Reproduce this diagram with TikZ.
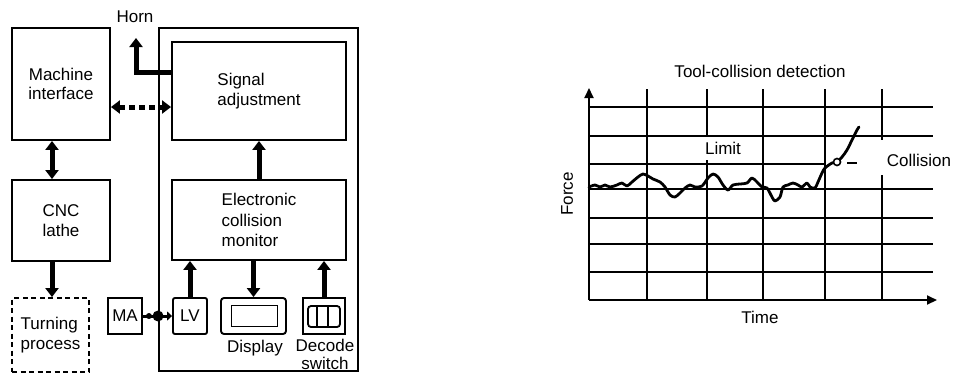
\documentclass[tikz,border=0pt]{standalone}
\usepackage{fontspec}
\setmainfont{Liberation Sans}
\usetikzlibrary{arrows.meta}
\begin{document}
\begin{tikzpicture}[x=1pt,y=-1pt,
  txt/.style={font=\fontsize{17}{19.5}\selectfont},
  blk/.style={draw, line width=1.9pt, inner sep=0pt, txt},
  lbl/.style={inner sep=0pt, txt},
  fat/.style={line width=5pt, -{Triangle[width=13pt,length=9pt]}},
  fatboth/.style={line width=5pt, {Triangle[width=13pt,length=9pt]}-{Triangle[width=13pt,length=9pt]}},
  gridline/.style={line width=1.5pt},
  axis/.style={line width=2pt, -{Triangle[width=9pt,length=10pt]}},
]
\useasboundingbox (0,0) rectangle (954,376);

% ---------------- left block diagram ----------------
\node[draw, line width=1.9pt, minimum width=199, minimum height=343, inner sep=0pt] (outer) at (258.5,199.5) {};

\node[blk, minimum width=98, minimum height=112, align=center] (mi) at (61,84) {Machine\\interface};
\node[blk, minimum width=98, minimum height=81, align=center] (cnc) at (61,220.5) {CNC\\lathe};
\node[blk, dash pattern=on 5pt off 3.5pt, minimum width=77, minimum height=74, align=left] (tp) at (50.5,335) {Turning\\process};

\node[blk, minimum width=174, minimum height=98, align=left] (sa) at (259,91) {Signal\\adjustment};
\node[blk, minimum width=174, minimum height=80, align=left, font=\fontsize{17}{20.5}\selectfont] (ecm) at (259,220) {Electronic\\collision\\monitor};

\node[blk, minimum width=34, minimum height=36] (ma) at (125,316) {MA};
\node[blk, rounded corners=2pt, minimum width=34, minimum height=36] (lv) at (190,316) {LV};
\node[blk, rounded corners=3pt, minimum width=65, minimum height=36] (disp) at (253.5,316) {};
\node[draw, line width=1.8pt, inner sep=0pt, minimum width=46, minimum height=21] (dispin) at (254.5,316) {};
\node[blk, minimum width=42, minimum height=36] (dec) at (324,316) {};
\node[draw, line width=1.8pt, inner sep=0pt, rounded corners=3pt, minimum width=32, minimum height=21] (decin) at (324,316.5) {};
\draw[line width=1.5pt] ([xshift=10pt]decin.north west) -- ([xshift=10pt]decin.south west);
\draw[line width=1.5pt] ([xshift=21pt]decin.north west) -- ([xshift=21pt]decin.south west);

\node[lbl] (displbl) at (255,348) {Display};
\node[lbl, align=center, font=\fontsize{17}{18}\selectfont] (declbl) at (325,354) {Decode\\switch};
\node[lbl] (horn) at (135,17) {Horn};
\coordinate (hornarr) at (136,38);

% connectors
\draw[fatboth] ([xshift=-9pt]mi.south) -- ([xshift=-9pt]cnc.north);
\draw[fat] ([xshift=-9pt]cnc.south) -- ([xshift=-9pt]cnc.south |- tp.north);
\draw[fat] (ecm.north) -- (sa.south);
\draw[fat] (lv.north) -- (lv.north |- ecm.south);
\draw[fat] (disp.north |- ecm.south) -- (disp.north);
\draw[fat] (dec.north) -- (dec.north |- ecm.south);
\draw[fat, line join=miter] ([yshift=19pt]sa.west) -| (hornarr);
\draw[fatboth, dash pattern=on 6pt off 4pt] ([yshift=-23pt]mi.east) -- ([yshift=-23pt]mi.east -| sa.west);
\draw[line width=3pt, -{Triangle[width=9pt,length=5pt]}] (ma.east) -- (lv.west);
\fill ([xshift=6pt]ma.east) circle (3);
\fill (ma.east -| outer.west) circle (5.5);

% ---------------- right chart ----------------
\node[lbl] (title) at (760,71) {Tool-collision detection};
\foreach \gx in {647,763,825} \draw[gridline] (\gx,89) -- (\gx,300);
\draw[gridline] (707,89) -- (707,137);
\draw[gridline] (707,160) -- (707,300);
\draw[gridline] (882,89) -- (882,140);
\draw[gridline] (882,175) -- (882,300);
\foreach \gy in {107,136,189,218,244,272} \draw[gridline] (589,\gy) -- (933,\gy);
\draw[gridline] (589,164) -- (825,164);
\draw[axis] (589,300) -- (589,88);
\draw[axis] (589,300) -- (937,300);

\draw[line width=2.8pt, line join=round, line cap=round] plot[smooth, tension=0.5] coordinates {
(589,187) (595,185) (600,187) (605,185) (610,187) (617,185) (622,183) (627,186)
(632,182) (638,177) (643,174) (648,176) (653,179) (660,182) (665,187) (670,195)
(675,197) (680,193) (685,188) (690,185) (695,187) (702,186) (708,178) (713,174)
(718,177) (723,185) (728,190) (733,185) (740,184) (747,183) (752,178) (757,182)
(762,187) (767,188) (772,197) (775,201) (780,197) (783,187) (788,185) (793,183)
(798,185) (802,187) (807,183) (810,187) (815,188) (818,182) (822,173) (825,168)
(832,163) (837,162) (842,157) (847,150) (852,140) (857,130) (859,127)};
\draw[line width=1.6pt, fill=white] (837,162) circle (3.5);
\draw[line width=1.6pt] (847,163) -- (857,163);

\node[lbl] (limit) at (723,148) {Limit};
\node[lbl] (coll) at (919,160) {Collision};
\node[lbl, rotate=90] (force) at (567,194) {Force};
\node[lbl] (time) at (760,317) {Time};
\end{tikzpicture}
\end{document}
